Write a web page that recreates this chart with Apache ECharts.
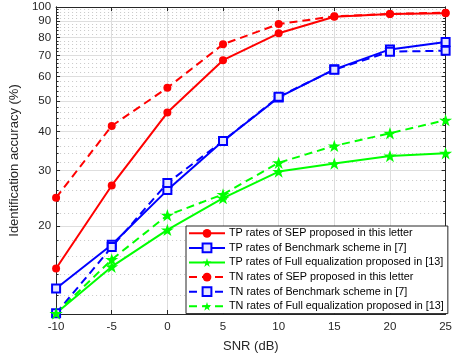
<!DOCTYPE html>
<html>
<head>
<meta charset="utf-8">
<script src="https://cdn.jsdelivr.net/npm/echarts@6/dist/echarts.min.js"></script>
<style>
  html, body { margin: 0; padding: 0; background: #fff; }
  #chart { width: 455px; height: 358px; }
</style>
</head>
<body>
<div id="chart"></div>
<script>
  // SNR points (dB)
  var snr = [-10, -5, 0, 5, 10, 15, 20, 25];

  // identification accuracy (%)
  var tpSep   = [14.6, 26.9, 46.0, 67.6, 82.4, 93.1, 95.0, 95.5];
  var tpBench = [12.6, 17.4, 26.0, 37.3, 51.4, 63.2, 73.2, 77.3];
  var tpFull  = [10.5, 14.8, 19.4, 24.5, 29.8, 31.6, 33.4, 34.1];
  var tnSep   = [24.6, 41.7, 55.2, 76.0, 88.2, 93.4, 95.0, 95.9];
  var tnBench = [10.5, 17.1, 27.4, 37.3, 51.7, 63.0, 72.0, 72.5];
  var tnFull  = [10.5, 15.6, 21.6, 25.2, 31.8, 36.0, 39.5, 43.5];

  var seriesNames = [
    'TP rates of SEP proposed in this letter',
    'TP rates of Benchmark scheme in [7]',
    'TP rates of Full equalization proposed in [13]',
    'TN rates of SEP proposed in this letter',
    'TN rates of Benchmark scheme in [7]',
    'TN rates of Full equalization proposed in [13]'
  ];

  // tick labels
  var xTicks = [-10, -5, 0, 5, 10, 15, 20, 25];
  var yTicks = [20, 30, 40, 50, 60, 70, 80, 90, 100];
  var yMinor = [];
  for (var v = 12; v < 100; v += 2) {
    if (v % 10 !== 0) yMinor.push(v);
  }

  var font = '"Liberation Sans", Arial, Helvetica, sans-serif';
  var ink = '#262626';
  var star = 'path://M100 0 L122.45 69.1 L195.1 69.1 L136.3 111.8 L158.8 180.9 L100 138.2 L41.2 180.9 L63.7 111.8 L4.9 69.1 L77.55 69.1 Z';

  function pairs(ys) {
    return snr.map(function (x, i) { return [x, ys[i]]; });
  }

  function makeSeries(name, ys, color, dashed, symbol, size) {
    var hollow = symbol === 'rect';
    return {
      name: name,
      type: 'line',
      data: pairs(ys),
      symbol: symbol,
      symbolSize: size,
      symbolKeepAspect: true,
      showAllSymbol: true,
      lineStyle: { color: color, width: 2, type: dashed ? [8, 5] : 'solid' },
      itemStyle: hollow
        ? { color: '#e6e6ff', borderColor: color, borderWidth: 2 }
        : { color: color, borderWidth: 0 },
      emphasis: { disabled: true },
      z: 3
    };
  }

  var yBase = {
    type: 'log',
    logBase: 10,
    min: 10.45,
    max: 100,
    axisLine: { show: true, onZero: false, lineStyle: { color: ink, width: 1 } },
    axisLabel: { show: false },
    splitLine: { show: false },
    minorTick: { show: false }
  };

  var option = {
    backgroundColor: '#fff',
    animation: false,
    textStyle: { fontFamily: font },
    grid: { left: 56, right: 8, top: 7, bottom: 44, containLabel: false },
    xAxis: [
      {
        type: 'value', position: 'bottom', min: -10, max: 25, interval: 5,
        name: 'SNR (dB)', nameLocation: 'middle', nameGap: 26,
        nameTextStyle: { color: ink, fontSize: 13, fontFamily: font },
        axisLine: { onZero: false, lineStyle: { color: ink, width: 1 } },
        axisTick: { inside: true, length: 4, lineStyle: { color: ink } },
        axisLabel: { color: ink, fontSize: 11.5, margin: 7, fontFamily: font,
          customValues: xTicks },
        splitLine: { show: true, lineStyle: { color: '#dedede', width: 1 } }
      },
      {
        type: 'value', position: 'top', min: -10, max: 25, interval: 5,
        axisLine: { onZero: false, lineStyle: { color: ink, width: 1 } },
        axisTick: { inside: true, length: 4, lineStyle: { color: ink } },
        axisLabel: { show: false },
        splitLine: { show: false }
      }
    ],
    yAxis: [
      Object.assign({}, yBase, {
        position: 'left',
        name: 'Identification accuracy (%)', nameLocation: 'middle', nameGap: 31,
        nameTextStyle: { color: ink, fontSize: 13, fontFamily: font },
        axisTick: { inside: true, length: 4, customValues: yTicks, lineStyle: { color: ink } },
        axisLabel: { show: true, color: ink, fontSize: 11.5, margin: 5, fontFamily: font,
          customValues: yTicks,
          formatter: function (val) { return String(Math.round(val)); } },
        splitLine: { show: true, lineStyle: { color: '#dedede', width: 1 } }
      }),
      Object.assign({}, yBase, {
        position: 'left',
        axisTick: { inside: true, length: 2.5, customValues: yMinor, lineStyle: { color: ink } },
        splitLine: { show: true, lineStyle: { color: '#c8c8c8', width: 1, type: [1, 3] } }
      }),
      Object.assign({}, yBase, {
        position: 'right',
        axisTick: { inside: true, length: 4, customValues: yTicks, lineStyle: { color: ink } }
      }),
      Object.assign({}, yBase, {
        position: 'right',
        axisTick: { inside: true, length: 2.5, customValues: yMinor, lineStyle: { color: ink } }
      })
    ],
    legend: {
      data: seriesNames,
      orient: 'vertical',
      left: 186,
      top: 226,
      padding: [0, 4, 0, 2],
      itemGap: 0,
      itemWidth: 36,
      itemHeight: 11,
      backgroundColor: '#fff',
      borderColor: ink,
      borderWidth: 1,
      borderRadius: 0,
      selectedMode: false,
      textStyle: { color: '#000', fontSize: 10.8, lineHeight: 14.6, fontFamily: font, padding: [0, 0, 0, -1] },
      z: 10
    },
    series: [
      makeSeries(seriesNames[0], tpSep, '#ff0000', false, 'circle', 8),
      makeSeries(seriesNames[1], tpBench, '#0000ff', false, 'rect', 8),
      makeSeries(seriesNames[2], tpFull, '#00ff00', false, star, 13),
      makeSeries(seriesNames[3], tnSep, '#ff0000', true, 'circle', 8),
      makeSeries(seriesNames[4], tnBench, '#0000ff', true, 'rect', 8),
      makeSeries(seriesNames[5], tnFull, '#00ff00', true, star, 13)
    ]
  };

  var chart = echarts.init(document.getElementById('chart'), null, { renderer: 'canvas' });
  chart.setOption(option);
</script>
</body>
</html>
